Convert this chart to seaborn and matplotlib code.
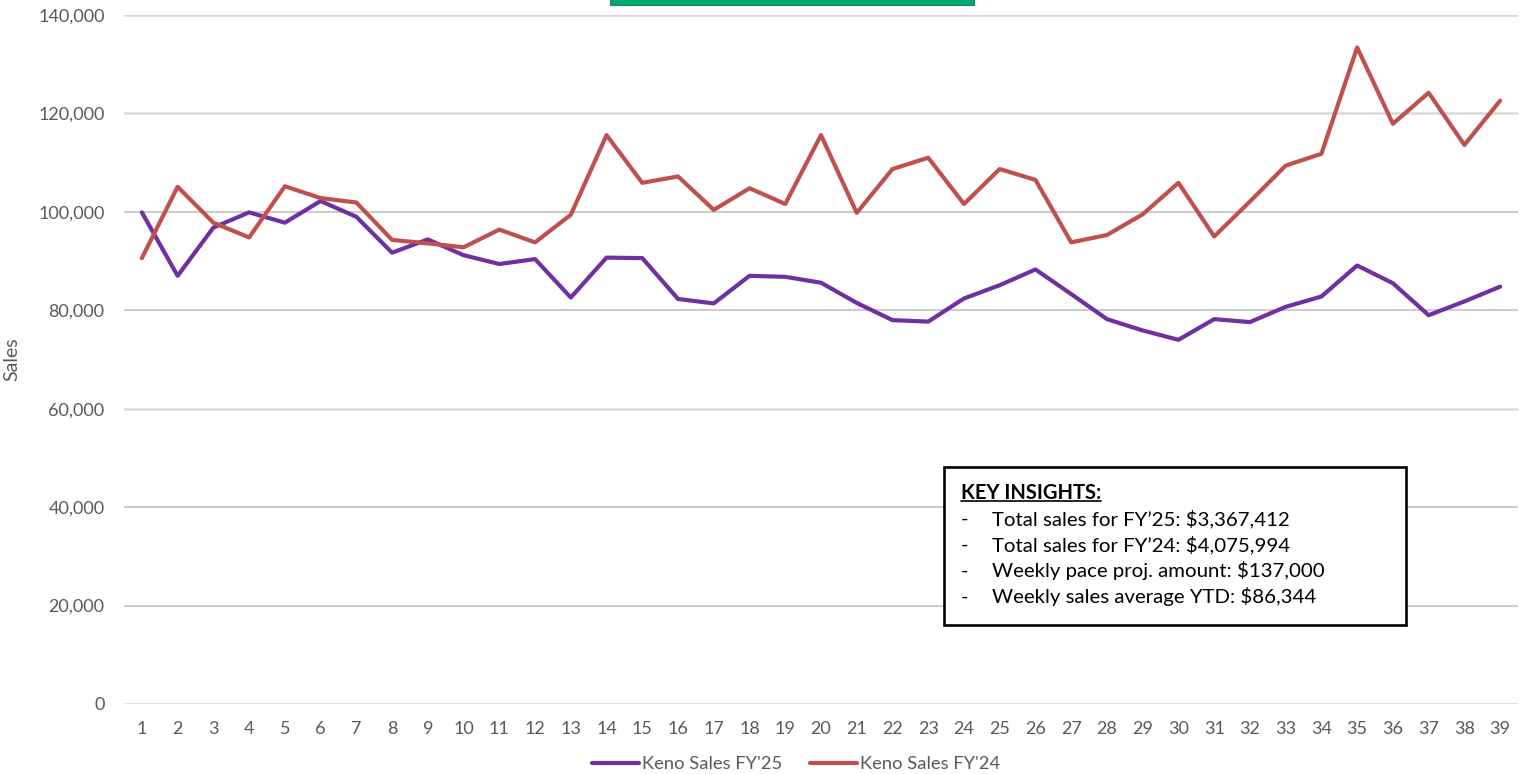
import numpy as np
import pandas as pd
import matplotlib
matplotlib.use("Agg")
import matplotlib.pyplot as plt
import seaborn as sns
from matplotlib.patches import Rectangle
from matplotlib.lines import Line2D

# Weekly keno sales
weeks = list(range(1, 40))
sales_fy25 = [99900, 87000, 96800, 99900, 97800, 102200, 99000, 91700, 94400, 91200,
              89400, 90400, 82600, 90700, 90600, 82300, 81400, 87000, 86800, 85600,
              81500, 78000, 77700, 82400, 85100, 88300, 83300, 78200, 75900, 74000,
              78200, 77600, 80700, 82800, 89100, 85500, 79000, 81800, 84800]
sales_fy24 = [90600, 105100, 97800, 94800, 105200, 102800, 101900, 94300, 93600, 92800,
              96400, 93800, 99400, 115600, 105900, 107200, 100400, 104800, 101600, 115600,
              99800, 108700, 111000, 101600, 108700, 106500, 93800, 95300, 99500, 105900,
              95000, 102100, 109400, 111800, 133400, 117900, 124200, 113600, 122600]
series_names = ["Keno Sales FY'25", "Keno Sales FY'24"]
y_ticks = [0, 20000, 40000, 60000, 80000, 100000, 120000, 140000]

insight_title = "KEY INSIGHTS:"
insight_lines = [
    "Total sales for FY\u201925: $3,367,412",
    "Total sales for FY\u201924: $4,075,994",
    "Weekly pace proj. amount: $137,000",
    "Weekly sales average YTD: $86,344",
]

df = pd.DataFrame({
    "week": weeks * 2,
    "sales": sales_fy25 + sales_fy24,
    "series": [series_names[0]] * len(weeks) + [series_names[1]] * len(weeks),
})

sns.set_theme(style="white")
plt.rcParams["font.family"] = ["Lato", "DejaVu Sans"]

W, H = 1529, 774
fig = plt.figure(figsize=(W / 100, H / 100), dpi=100)
ax = fig.add_axes([124 / W, 1 - 704 / H, 1394 / W, 689 / H])

palette = {series_names[0]: "#7030A0", series_names[1]: "#C0504D"}
sns.lineplot(data=df, x="week", y="sales", hue="series", hue_order=series_names,
             palette=palette, linewidth=3.0, ax=ax, legend=False,
             solid_joinstyle="round", solid_capstyle="round")

ax.set_xlim(0.5, 39.5)
ax.set_ylim(0, 140000)
ax.set_xticks(weeks)
ax.set_yticks(y_ticks)
ax.set_yticklabels([f"{v:,}" for v in y_ticks])
ax.tick_params(axis="both", length=0, labelsize=13, labelcolor="#595959")
ax.tick_params(axis="x", pad=12)
ax.tick_params(axis="y", pad=14)
ax.set_xlabel("")
ax.set_ylabel("Sales", fontsize=14, color="#595959")
ax.yaxis.set_label_coords(-0.0746, 0.5)
for s in ax.spines.values():
    s.set_visible(False)

# horizontal gridlines
ax.grid(axis="y", zorder=0)
ax.set_axisbelow(True)
light = {0, 60000, 120000, 140000}
for v, gl in zip(y_ticks, ax.yaxis.get_gridlines()):
    if v in light:
        gl.set_color("#D9D9D9")
        gl.set_linewidth(1.8)
    else:
        gl.set_color("#BDBDBD")
        gl.set_linewidth(1.1)
ax.grid(False, axis="x")

# legend at bottom
handles = ax.get_lines()[:2]
fig.legend(handles, series_names, loc="center", bbox_to_anchor=(796 / W, 1 - 764 / H),
           ncol=2, frameon=False, fontsize=13.2, labelcolor="#595959",
           handlelength=2.6, handletextpad=0.15, columnspacing=1.5)

# green bar cut off at the top
fig.patches.append(Rectangle((610 / W, 1 - 5 / H), 364 / W, 6 / H, transform=fig.transFigure,
                             facecolor="#00A774", edgecolor="#0E8F68", linewidth=0.8))

# key insights box
fig.patches.append(Rectangle((944 / W, 1 - 625 / H), 462 / W, 158 / H, transform=fig.transFigure,
                             facecolor="white", edgecolor="black", linewidth=1.9, zorder=5))
title_txt = fig.text(961 / W, 1 - 493 / H, insight_title, fontsize=14.5, fontweight="bold",
                     color="black", va="center", ha="left", zorder=6)
for i, line in enumerate(insight_lines):
    yy = 1 - (519 + i * 26) / H
    fig.text(961 / W, yy, "-", fontsize=14.7, color="black", va="center", ha="left", zorder=6)
    fig.text(992 / W, yy, line, fontsize=14.7, color="black", va="center", ha="left", zorder=6)

fig.canvas.draw()
bb = title_txt.get_window_extent(fig.canvas.get_renderer())
uy = (bb.y0 + 2) / H
fig.add_artist(Line2D([bb.x0 / W, bb.x1 / W], [uy, uy], transform=fig.transFigure,
                      color="black", linewidth=1.2, zorder=6))

fig.savefig("out.png", dpi=100, facecolor="white")
